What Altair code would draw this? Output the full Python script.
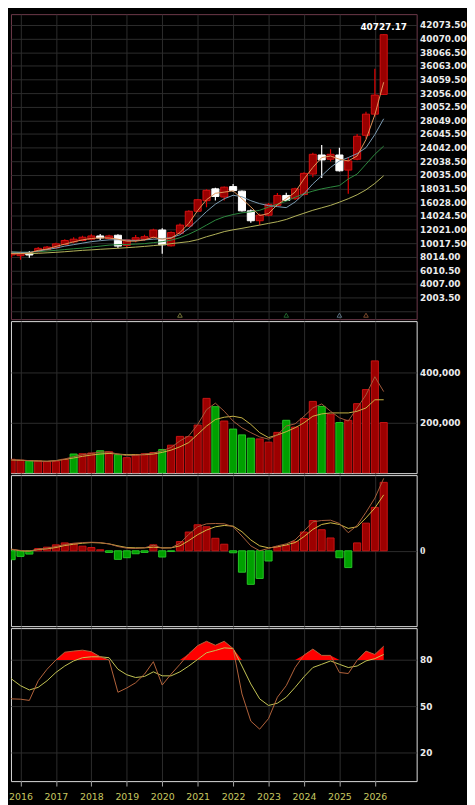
import json
import altair as alt
import pandas as pd

# ---------------- data ----------------
quarters = ["2015Q3", "2015Q4", "2016Q1", "2016Q2", "2016Q3", "2016Q4", "2017Q1", "2017Q2", "2017Q3", "2017Q4",
            "2018Q1", "2018Q2", "2018Q3", "2018Q4", "2019Q1", "2019Q2", "2019Q3", "2019Q4", "2020Q1", "2020Q2",
            "2020Q3", "2020Q4", "2021Q1", "2021Q2", "2021Q3", "2021Q4", "2022Q1", "2022Q2", "2022Q3", "2022Q4",
            "2023Q1", "2023Q2", "2023Q3", "2023Q4", "2024Q1", "2024Q2", "2024Q3", "2024Q4", "2025Q1", "2025Q2",
            "2025Q3", "2025Q4", "2026Q1", "2026Q2"]

opens = [9284, 8269, 8167, 8559, 8748, 9038, 9328, 9821, 10198, 10402, 10590, 11069, 10692, 11170, 9676,
         10489, 10590, 10880, 11940, 9618, 11461, 12520, 14696, 16248, 17989, 16785, 18323, 17655, 14754,
         13303, 14116, 15566, 17017, 16538, 17161, 20165, 22965, 22341, 22965, 20745, 22341, 25866, 28968, 31872]
highs = [9575, 8849, 8777, 8849, 9430, 9575, 10083, 10590, 10880, 11098, 11315, 11359, 11243, 11315, 10300,
         11214, 11243, 12142, 12186, 11707, 12911, 14841, 16494, 17916, 18134, 18323, 18714, 17742, 14942,
         14362, 15914, 17365, 17408, 18134, 20411, 23313, 24416, 23792, 24038, 22587, 26069, 29304, 35645, 40727.17]
lows = [7254, 7906, 7587, 7877, 8632, 8922, 9212, 9720, 10010, 10300, 10445, 10489, 10590, 9284, 9284,
        10155, 10372, 10692, 8458, 9531, 11359, 12432, 14609, 15300, 16291, 16291, 17510, 14652, 13013,
        12665, 13970, 15479, 16204, 16393, 17017, 19686, 19585, 22007, 20556, 17263, 22196, 25387, 28623, 31872]
closes = [8080, 8487, 8559, 8269, 9241, 9430, 9908, 10402, 10590, 10880, 11069, 10779, 11069, 9575, 10489,
          10808, 10953, 11940, 9763, 11562, 12665, 14696, 16393, 17771, 16872, 18236, 17742, 14754, 13303,
          14116, 15711, 17017, 16291, 17989, 20266, 23066, 22239, 23066, 20643, 22094, 25721, 28968, 31770, 40650]

ma_orange = [8661, 8458, 8458, 8559, 8951, 9139, 9531, 9865, 10199, 10489, 10692, 10779, 10779, 10590, 10300,
             10300, 10489, 10880, 10590, 10735, 11562, 12911, 14797, 16393, 17336, 17510, 17699, 16538, 15334,
             14072, 14362, 15668, 16538, 17510, 19439, 21137, 22587, 22820, 22341, 22094, 22820, 25242, 28869, 33656]
ma_blue = [8806, 8704, 8661, 8661, 8849, 9067, 9284, 9575, 9792, 10010, 10227, 10373, 10489, 10518, 10445,
           10402, 10489, 10590, 10663, 10808, 11243, 12186, 13419, 14652, 15740, 16538, 17046, 16828, 16248,
           15813, 15522, 15377, 15232, 16059, 17263, 18714, 19918, 21137, 22094, 22587, 23168, 24038, 25968, 28289]
ma_green = [8806, 8704, 8661, 8661, 8748, 8849, 8951, 9067, 9183, 9284, 9430, 9575, 9720, 9792, 9821,
            9865, 9937, 10082, 10227, 10445, 10808, 11315, 11939, 12665, 13390, 13883, 14217, 14464, 14609,
            14841, 15305, 15740, 16175, 16756, 17263, 17655, 17989, 18235, 18468, 19439, 20165, 21615, 23066, 24270]
ma_yellow = [8559, 8516, 8487, 8458, 8516, 8588, 8661, 8748, 8849, 8951, 9023, 9110, 9183, 9255, 9343,
             9430, 9531, 9647, 9763, 9937, 10082, 10227, 10518, 10953, 11315, 11707, 11968, 12186, 12432,
             12665, 12911, 13158, 13492, 13970, 14406, 14841, 15203, 15566, 16030, 16538, 17118, 17844, 18787, 19918]

volumes = [60000, 55000, 51000, 48600, 48600, 45800, 47000, 55000, 76000, 77000, 80000, 89000, 85000, 73000,
           61500, 73000, 77000, 82000, 94000, 111000, 146000, 145000, 191000, 297000, 264000, 207000, 175000,
           152000, 139000, 136000, 123000, 162000, 210000, 183000, 217000, 285000, 265000, 234000, 201000,
           210000, 276000, 332000, 446000, 201000]
volume_up = [0, 1, 1, 0, 1, 1, 1, 1, 0, 1, 1, 0, 1, 0, 1, 1, 1, 1, 0, 1, 1, 1, 1, 1, 0, 1, 0, 0, 0, 1,
             1, 1, 0, 1, 1, 1, 0, 1, 0, 1, 1, 1, 1, 1]
vol_ma_fast = [56200, 53600, 52300, 49700, 47100, 47100, 49700, 56200, 65400, 73200, 78400, 83700, 83700,
               75800, 69300, 70600, 75800, 79700, 88900, 102000, 128000, 148000, 193000, 252000, 278000,
               246000, 207000, 180000, 161000, 144000, 135000, 152000, 187000, 196000, 226000, 259000,
               275000, 246000, 220000, 207000, 259000, 311000, 383000, 324000]
vol_ma_slow = [53600, 52300, 51000, 49700, 48400, 47100, 49700, 54900, 60100, 66700, 71900, 75800, 78400,
               75800, 73200, 73200, 73200, 75800, 82400, 91500, 104600, 121600, 154200, 186900, 213100,
               222200, 226100, 219600, 193500, 160800, 141200, 151600, 164700, 180400, 200000, 226100,
               235300, 239200, 239200, 239200, 245800, 258800, 291500, 291500]

macd_hist = [-30, -27, -17, -10, 7, 11, 18, 24, 22, 14, 10, 3, -5, -26, -21, -9, -5, 18, -19, -2, 28, 57,
             79, 73, 38, 20, -6, -65, -102, -84, -31, 12, 16, 28, 57, 92, 64, 39, -21, -51, 24, 84, 132, 208]
macd_dif = [10, 5, 1, -1, 5, 8, 13, 19, 23, 25, 26, 25, 21, 13, 8, 7, 9, 17, 8, 9, 23, 50, 73, 82, 83, 82,
            73, 45, 15, 0, 7, 15, 21, 33, 60, 88, 92, 93, 83, 55, 77, 117, 160, 220]
macd_dea = [8, 4, 0, -1, 4, 6, 10, 16, 20, 23, 25, 24, 21, 15, 10, 9, 9, 11, 9, 9, 15, 31, 49, 63, 73, 77,
            75, 58, 33, 15, 9, 12, 18, 25, 43, 65, 80, 85, 80, 68, 73, 100, 130, 170]

kdj_k = [61.8, 54.7, 54.5, 53.7, 66.5, 74, 80, 85.1, 85.8, 86.4, 85.4, 82.1, 80, 59, 61.8, 65.2, 70.8, 78.9,
         63.7, 70.8, 77.2, 84.1, 89.4, 92.2, 89.6, 92.2, 87.5, 57.9, 40.2, 35, 41.9, 55.8, 63.3, 75.1, 83.2,
         87.1, 83, 83, 71.9, 71.2, 79.8, 85.8, 83.6, 89]
kdj_d = [74, 67.6, 63.3, 60.5, 62.2, 66.5, 71.9, 76.1, 79.4, 81.5, 82.1, 82.1, 81.5, 74, 70.4, 68.6, 69.3,
         72.3, 69.7, 69.7, 72.3, 76.1, 80.4, 84.7, 86.2, 87.9, 87.5, 76.1, 64.4, 54.7, 50.4, 51.9, 55.8, 62.2,
         69.1, 75.1, 77.2, 79.4, 77.2, 75.1, 76.1, 79.4, 80.9, 83.6]

marker_quarters = ["2020Q3", "2023Q3", "2025Q1", "2025Q4"]
marker_colors = ["#a8a852", "#2e8b40", "#7c9cb4", "#b06a40"]

years = [2016, 2017, 2018, 2019, 2020, 2021, 2022, 2023, 2024, 2025, 2026]
price_ticks = [0, 2003.5, 4007.0, 6010.5, 8014.0, 10017.5, 12021.0, 14024.5, 16028.0, 18031.5, 20035.0,
               22038.5, 24042.0, 26045.5, 28049.0, 30052.5, 32056.0, 34059.5, 36063.0, 38066.5, 40070.0, 42073.5]
volume_ticks = [200000, 400000]
macd_ticks = [0]
kdj_ticks = [20, 50, 80]

# ---------------- tables ----------------
df = pd.DataFrame({
    "q": quarters, "i": list(range(len(quarters))),
    "open": opens, "high": highs, "low": lows, "close": closes,
    "ma1": ma_orange, "ma2": ma_blue, "ma3": ma_green, "ma4": ma_yellow,
    "volume": volumes, "vol_up": volume_up, "vma1": vol_ma_fast, "vma2": vol_ma_slow,
    "hist": macd_hist, "dif": macd_dif, "dea": macd_dea,
    "k": kdj_k, "d": kdj_d,
})
markers = pd.DataFrame({"i": [quarters.index(q) for q in marker_quarters], "c": marker_colors})

# ---------------- styling ----------------
FONT = "DejaVu Sans"
GRID = "#2d2d2d"
W = 411
X_DOMAIN = [0.925, 46.72]
year_idx = [quarters.index(f"{y}Q1") for y in years]
year_expr = f"{json.dumps([str(y) for y in years])}[indexof({json.dumps(year_idx)}, datum.value)]"


def x_axis(show):
    if show:
        return alt.Axis(values=year_idx, grid=True, gridColor=GRID, domain=False, ticks=True,
                        tickColor="#a8a8a8", tickSize=5, labelExpr=year_expr, labelColor="#c8c860",
                        labelFont=FONT, labelFontSize=9.5, labelPadding=6, labelFlush=False,
                        labelOverlap=False, title=None)
    return alt.Axis(values=year_idx, grid=True, gridColor=GRID, domain=False, ticks=False,
                    labels=False, title=None)


def xq(field, show=False):
    return alt.X(f"{field}:Q", scale=alt.Scale(domain=X_DOMAIN, nice=False, zero=False), axis=x_axis(show))


def y_axis(values, expr=None, font=FONT, size=9):
    kw = dict(orient="right", values=values, grid=True, gridColor=GRID, domain=False, ticks=False,
              labelColor="#ececec", labelFont=font, labelFontWeight="bold", labelFontSize=size,
              labelPadding=3, labelOverlap=False, title=None)
    if expr:
        kw["labelExpr"] = expr
    return alt.Axis(**kw)


base = alt.Chart(df)
up_test = "datum.close >= datum.open"

# ---------------- main price panel ----------------
p_scale = alt.Scale(domain=[-1161, 43666], nice=False, zero=False)
p_axis = y_axis(price_ticks, "datum.value == 0 ? '' : format(datum.value, '.2f')")


def yp(field):
    return alt.Y(f"{field}:Q", scale=p_scale, axis=p_axis)


wicks = base.mark_rule(strokeWidth=1.2, clip=True).encode(
    x=xq("i"), y=yp("low"), y2="high:Q",
    color=alt.condition(up_test, alt.value("#e00000"), alt.value("#ffffff")))
bodies = base.transform_calculate(xl="datum.i - 0.4", xr="datum.i + 0.4").mark_rect(
    clip=True, strokeWidth=1).encode(
    x=xq("xl"), x2="xr:Q", y=yp("open"), y2="close:Q",
    fill=alt.condition(up_test, alt.value("#990000"), alt.value("#ffffff")),
    stroke=alt.condition(up_test, alt.value("#d41010"), alt.value("#ffffff")))


def pline(field, color):
    return base.mark_line(clip=True, strokeWidth=1, color=color).encode(x=xq("i"), y=yp(field))


peak = base.transform_joinaggregate(mx="max(high)").transform_filter("datum.high == datum.mx").mark_text(
    font=FONT, fontWeight="bold", fontSize=9, color="#ffffff", baseline="bottom", dy=-2).encode(
    x=xq("i"), y=yp("high"), text=alt.Text("high:Q", format=".2f"))
tri = alt.Chart(markers).mark_point(shape="triangle-up", filled=False, size=22, strokeWidth=1, clip=True).encode(
    x=xq("i"), y=alt.value(305), color=alt.Color("c:N", scale=None, legend=None))

main = alt.layer(
    wicks, bodies,
    pline("ma4", "#b4b45a"), pline("ma3", "#2e8b40"), pline("ma2", "#7c9cb4"), pline("ma1", "#e0955a"),
    peak, tri,
).properties(width=W, height=309, view=alt.ViewBackground(stroke="#6e3a4a"))

# ---------------- volume panel ----------------
v_scale = alt.Scale(domain=[0, 603922], nice=False, zero=False)
v_axis = y_axis(volume_ticks)


def yv(field):
    return alt.Y(f"{field}:Q", scale=v_scale, axis=v_axis)


vbars = base.transform_calculate(xl="datum.i - 0.4", xr="datum.i + 0.4").mark_rect(
    clip=True, strokeWidth=1).encode(
    x=xq("xl"), x2="xr:Q", y=yv("volume"), y2=alt.Y2Datum(0),
    fill=alt.condition("datum.vol_up == 1", alt.value("#9c0000"), alt.value("#00a000")),
    stroke=alt.condition("datum.vol_up == 1", alt.value("#c81414"), alt.value("#26c426")))
vol = alt.layer(
    vbars,
    base.mark_line(clip=True, strokeWidth=1, color="#c8b446").encode(x=xq("i"), y=yv("vma2")),
    base.mark_line(clip=True, strokeWidth=1, color="#a45a3c").encode(x=xq("i"), y=yv("vma1")),
).properties(width=W, height=154)

# ---------------- MACD panel ----------------
m_scale = alt.Scale(domain=[-229, 230], nice=False, zero=False)
m_axis = y_axis(macd_ticks, font="Liberation Serif", size=11)


def ym(field):
    return alt.Y(f"{field}:Q", scale=m_scale, axis=m_axis)


mbars = base.transform_calculate(xl="datum.i - 0.4", xr="datum.i + 0.4").mark_rect(
    clip=True, strokeWidth=1).encode(
    x=xq("xl"), x2="xr:Q", y=ym("hist"), y2=alt.Y2Datum(0),
    fill=alt.condition("datum.hist >= 0", alt.value("#9c0000"), alt.value("#00a000")),
    stroke=alt.condition("datum.hist >= 0", alt.value("#c81414"), alt.value("#26c426")))
macd = alt.layer(
    mbars,
    base.mark_line(clip=True, strokeWidth=1, color="#d2bc46").encode(x=xq("i"), y=ym("dea")),
    base.mark_line(clip=True, strokeWidth=1, color="#a8603c").encode(x=xq("i"), y=ym("dif")),
).properties(width=W, height=153)

# ---------------- KDJ panel ----------------
k_scale = alt.Scale(domain=[1.17, 100.76], nice=False, zero=False)
k_axis = y_axis(kdj_ticks)


def yk(field):
    return alt.Y(f"{field}:Q", scale=k_scale, axis=k_axis)


karea = base.transform_calculate(kk="max(datum.k, 80)").mark_area(clip=True, color="#ff0000", opacity=1).encode(
    x=xq("i", True), y=yk("kk"), y2=alt.Y2Datum(80))
kdj = alt.layer(
    karea,
    base.mark_line(clip=True, strokeWidth=1, color="#c4c454").encode(x=xq("i", True), y=yk("d")),
    base.mark_line(clip=True, strokeWidth=1, color="#b4643c").encode(x=xq("i", True), y=yk("k")),
).properties(width=W, height=155)

chart = alt.vconcat(main, vol, macd, kdj, spacing=2, bounds="flush").properties(
    padding=0, background="#000000"
).configure_view(stroke="#767676", strokeWidth=1).configure(font=FONT)

chart.save("out.html", embed_options={"renderer": "svg", "actions": False})
